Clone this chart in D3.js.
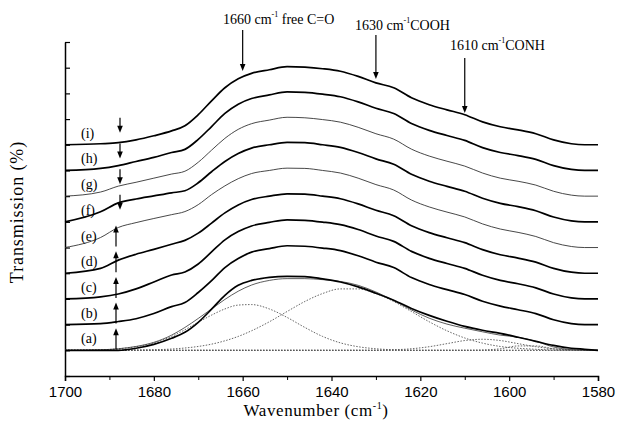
<!DOCTYPE html>
<html>
<head>
<meta charset="utf-8">
<script src="https://cdn.jsdelivr.net/npm/d3@7"></script>
<style>
  body { margin: 0; background: #fff; }
  svg { display: block; }
</style>
</head>
<body>
<svg id="chart" width="620" height="431"></svg>
<script>
// wavenumber grid (cm-1)
const wavenumbers = [1700,1692,1688,1684,1680,1676,1673,1670,1667,1664,1661,1658,1654,1650,1646,1642,1638,1634,1630,1626,1622,1618,1614,1610,1606,1602,1598,1594,1590,1586,1583,1580];

// band intensity above each trace's own baseline (arbitrary units)
const bandA = [0,0,0,.08,.23,.47,.70,1.09,1.60,2.14,2.53,2.72,2.84,2.88,2.87,2.78,2.66,2.47,2.22,1.95,1.63,1.36,1.13,.93,.78,.66,.51,.35,.19,.08,.04,0];
const bandB = [0,.04,.12,.23,.43,.70,.86,1.25,1.71,2.22,2.57,2.82,2.96,3.07,3.05,2.98,2.88,2.68,2.43,2.22,1.83,1.56,1.36,1.17,.91,.72,.58,.43,.19,.04,0,0];
const bandC = [0,.08,.19,.39,.66,.93,1.05,1.36,1.83,2.30,2.62,2.84,2.98,3.08,3.06,2.99,2.89,2.70,2.45,2.24,1.85,1.58,1.38,1.19,.92,.72,.59,.43,.19,.04,0,0];
const bandD = [0,.19,.51,.74,.93,1.13,1.28,1.56,1.95,2.35,2.66,2.87,3.00,3.09,3.08,3.00,2.90,2.70,2.45,2.24,1.85,1.58,1.38,1.19,.92,.72,.59,.43,.19,.04,0,0];
const bandE = [0,.39,.78,.97,1.13,1.28,1.40,1.67,2.06,2.40,2.68,2.88,3.00,3.09,3.08,3.00,2.90,2.70,2.45,2.24,1.85,1.58,1.38,1.19,.92,.72,.59,.43,.19,.04,0,0];
const bandF = [0,.39,.74,.89,1.01,1.13,1.21,1.52,1.95,2.35,2.66,2.87,3.00,3.09,3.08,3.00,2.90,2.70,2.45,2.24,1.85,1.58,1.38,1.19,.92,.72,.59,.43,.19,.04,0,0];
const bandG = [0,.16,.39,.54,.70,.86,.97,1.32,1.79,2.25,2.60,2.82,2.96,3.07,3.05,2.98,2.88,2.68,2.43,2.22,1.83,1.56,1.36,1.17,.90,.70,.58,.43,.19,.04,0,0];
const bandH = [0,.08,.19,.35,.51,.70,.82,1.21,1.71,2.22,2.58,2.80,2.94,3.06,3.04,2.97,2.87,2.67,2.42,2.22,1.83,1.56,1.36,1.17,.89,.70,.58,.43,.19,.04,0,0];
const bandI = [0,.04,.08,.19,.35,.54,.74,1.17,1.71,2.22,2.57,2.78,2.92,3.04,3.02,2.96,2.86,2.66,2.41,2.22,1.83,1.56,1.36,1.17,.89,.70,.58,.43,.19,.04,0,0];

// fitted components of trace (a)
const fitFreeCO = [0,.02,.06,.14,.29,.54,.80,1.09,1.37,1.61,1.76,1.78,1.61,1.28,.89,.54,.29,.14,.06,.02,0,0,0,0,0,0,0,0,0,0,0,0];
const fitCOOH   = [0,0,0,.01,.02,.05,.09,.15,.24,.37,.54,.76,1.11,1.51,1.90,2.21,2.39,2.39,2.21,1.90,1.51,1.11,.76,.48,.28,.15,.08,.04,.01,0,0,0];
const fitCONH   = [0,0,0,0,0,0,0,0,0,0,0,0,0,0,0,0,0,0,0,.02,.06,.14,.26,.38,.43,.38,.26,.14,.06,.02,.01,0];
const fitSmall  = [0,0,0,0,0,0,0,0,0,0,0,0,0,0,0,0,0,0,0,0,0,0,0,0,.01,.06,.17,.17,.06,.01,0,0];
const fitSum    = [0,.02,.06,.15,.31,.59,.89,1.24,1.61,1.98,2.30,2.54,2.72,2.79,2.79,2.75,2.68,2.53,2.27,1.94,1.57,1.25,1.02,.86,.72,.59,.51,.35,.13,.03,.01,0];

const traceLabels = ['(a)','(b)','(c)','(d)','(e)','(f)','(g)','(h)','(i)'];
const traceOffsets = [1,2,3,4,5,6,7,8,9];
const traceBands = [bandA,bandB,bandC,bandD,bandE,bandF,bandG,bandH,bandI];
const traceThin = [false,false,false,false,true,false,true,false,false];
const arrowUp = [true,true,true,true,true,false,false,false,false];

const xTicks = [1700,1680,1660,1640,1620,1600,1580];
const xMinor = [1690,1670,1650,1630,1610,1590];
const yTicks = d3.range(0, 14);

const peakNotes = [
  {wn: 1660, label: '1660 cm', rest: ' free C=O', tx: 223, ty: 24, y0: 30, y1: 71},
  {wn: 1630, label: '1630 cm', rest: 'COOH', tx: 355, ty: 30, y0: 35, y1: 79},
  {wn: 1610, label: '1610 cm', rest: 'CONH', tx: 450, ty: 50, y0: 58, y1: 113}
];

const svg = d3.select('#chart');
const x = d3.scaleLinear().domain([1700, 1580]).range([65, 598]);
const y = d3.scaleLinear().domain([0, 13]).range([376, 42]);

const serif = '"Liberation Serif", "Times New Roman", serif';
const sans = '"Liberation Sans", Arial, sans-serif';

// axes
const xAxis = svg.append('g')
  .attr('transform', 'translate(0,' + y(0) + ')')
  .call(d3.axisBottom(x).tickValues(xTicks).tickSize(5).tickPadding(5).tickFormat(d3.format('d')));
xAxis.select('.domain').attr('stroke-width', 1.5);
xAxis.selectAll('.tick line').attr('stroke-width', 1.2);
xAxis.selectAll('text').attr('font-family', sans).attr('font-size', 15).attr('fill', '#000');

const xMinorAxis = svg.append('g')
  .attr('transform', 'translate(0,' + y(0) + ')')
  .call(d3.axisBottom(x).tickValues(xMinor).tickSize(4).tickFormat(''));
xMinorAxis.select('.domain').remove();

const yAxis = svg.append('g')
  .attr('transform', 'translate(' + x(1700) + ',0)')
  .call(d3.axisLeft(y).tickValues(yTicks).tickSizeInner(-5).tickSizeOuter(0).tickFormat(''));
yAxis.select('.domain').attr('stroke-width', 1.5);
yAxis.selectAll('.tick line').attr('stroke-width', 1.2);

// axis titles
const xt = svg.append('text')
  .attr('x', 316).attr('y', 416)
  .attr('text-anchor', 'middle')
  .attr('font-family', serif).attr('font-size', 17)
  .style('letter-spacing', '0.6px');
xt.append('tspan').text('Wavenumber (cm');
xt.append('tspan').attr('dy', -7).attr('font-size', 10).text('-1');
xt.append('tspan').attr('dy', 7).text(')');

svg.append('text')
  .attr('transform', 'translate(23,212) rotate(-90)')
  .attr('text-anchor', 'middle')
  .attr('font-family', serif).attr('font-size', 18)
  .style('letter-spacing', '0.9px')
  .text('Transmission (%)');

const line = d3.line()
  .x((d, i) => x(wavenumbers[i]))
  .y(d => y(d))
  .curve(d3.curveMonotoneX);

// fit components under (a)
const base = traceOffsets[0];
svg.append('line')
  .attr('x1', x(1700)).attr('x2', x(1580))
  .attr('y1', y(base)).attr('y2', y(base))
  .attr('stroke', '#555').attr('stroke-width', 0.9).attr('stroke-dasharray', '1.5,1.5');
[fitFreeCO, fitCOOH, fitCONH, fitSmall].forEach(c => {
  svg.append('path')
    .attr('d', line(c.map(v => base + v)))
    .attr('fill', 'none').attr('stroke', '#555').attr('stroke-width', 0.9)
    .attr('stroke-dasharray', '1.5,1.5');
});
svg.append('path')
  .attr('d', line(fitSum.map(v => base + v)))
  .attr('fill', 'none').attr('stroke', '#333').attr('stroke-width', 0.8);

// traces
traceBands.forEach((band, k) => {
  svg.append('path')
    .attr('d', line(band.map(v => traceOffsets[k] + v)))
    .attr('fill', 'none')
    .attr('stroke', traceThin[k] ? '#333' : '#000')
    .attr('stroke-width', traceThin[k] ? 0.9 : 1.7);
});

// arrow helper
function arrow(x0, ya, yb) {
  const dir = yb > ya ? 1 : -1;
  svg.append('line').attr('x1', x0).attr('x2', x0).attr('y1', ya).attr('y2', yb - dir * 6)
    .attr('stroke', '#000').attr('stroke-width', 1.2);
  svg.append('path')
    .attr('d', 'M' + (x0 - 2.8) + ',' + (yb - dir * 7) + 'L' + (x0 + 2.8) + ',' + (yb - dir * 7) + 'L' + x0 + ',' + yb + 'Z')
    .attr('fill', '#000');
}

// trace labels and arrows
traceLabels.forEach((lab, k) => {
  const yb = y(traceOffsets[k]);
  svg.append('text')
    .attr('x', 81).attr('y', yb - 7)
    .attr('font-family', serif).attr('font-size', 14)
    .text(lab);
  if (arrowUp[k]) arrow(116, yb - 1, yb - 22);
  else arrow(120, yb - 27, yb - 12);
});

// peak annotations
peakNotes.forEach(p => {
  const t = svg.append('text')
    .attr('x', p.tx).attr('y', p.ty)
    .attr('font-family', serif).attr('font-size', 14);
  t.append('tspan').text(p.label);
  t.append('tspan').attr('dy', -7).attr('font-size', 8).text('-1');
  t.append('tspan').attr('dy', 7).text(p.rest);
  arrow(x(p.wn), p.y0, p.y1);
});
</script>
</body>
</html>
